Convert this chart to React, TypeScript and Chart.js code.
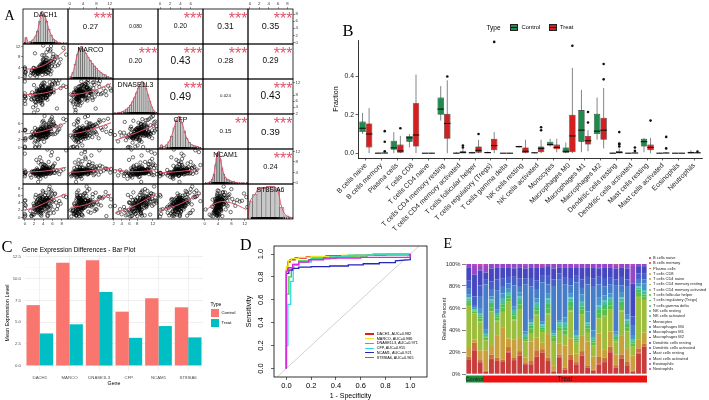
import React, { useEffect, useRef } from "react";
import { Chart, registerables } from "chart.js";
Chart.register(...registerables);

const FONT = "'Liberation Sans', Arial, Helvetica, sans-serif";
const SERIF = "'Liberation Serif', 'Times New Roman', serif";
Chart.defaults.font.family = FONT;

// ================= Panel A data =================
const genes = ["DACH1", "MARCO", "DNASE1L3", "CFP", "NCAM1", "ST8SIA6"];
const dach1 = [0, 0, 0.1, 1.2, 2.1, 1.8, 2.5, 3.0, 2.2, 1.5, 3.1, 2.8, 0.2, 2.6, 3.4, 1.9, 2.9, 3.3, 2.4, 3.6, 2.0, 3.2, 1.4, 2.7, 3.8, 2.3, 3.5, 0, 2.9, 3.0,
  3.4, 4.0, 3.7, 4.2, 3.9, 4.5, 3.1, 4.8, 3.6, 4.1, 2.8, 4.4, 3.8, 5.0, 3.5, 4.3, 4.6, 3.3, 4.0, 5.2, 3.7, 4.9, 2.6, 4.2, 3.9, 4.7, 3.0, 4.4, 5.5, 3.6,
  4.5, 5.3, 4.8, 6.0, 5.1, 4.2, 5.8, 6.5, 4.9, 5.5, 7.2, 4.6, 5.0, 6.2, 3.9, 5.7, 8.4, 4.4, 6.8, 5.2, 4.0, 5.9, 7.8, 4.7, 5.4, 6.3, 3.5, 9.0, 5.6, 4.3,
  3.2, 4.6, 2.7, 5.1, 3.9, 1.6, 4.3, 3.5, 6.1, 2.4, 4.8, 3.7, 5.6, 2.9, 4.1, 0, 3.3, 4.9, 2.2, 5.3, 3.8, 4.4, 1.9, 3.0, 6.6, 4.2, 3.6, 2.6, 5.0, 4.7,
  3.4, 0, 4.0, 5.8, 2.8, 3.9, 4.5, 7.0, 3.1, 4.3, 2.0, 5.4, 3.7, 4.6, 3.3, 6.3, 2.5, 4.1, 3.8, 5.2, 0.1, 4.4, 3.6, 2.3, 4.9, 3.0, 5.7, 4.0, 3.5, 7.5];
const marco = [0.5, 1.2, 2.0, 0.8, 2.6, 1.5, 3.0, 2.2, 1.0, 2.8, 3.3, 1.8, 2.4, 0.3, 3.6, 2.1, 1.4, 2.9, 3.1, 2.5, 1.7, 3.8, 2.0, 2.7, 1.1, 3.4, 2.3, 4.0, 1.9, 3.2,
  3.5, 2.8, 4.2, 3.0, 5.1, 2.6, 3.9, 4.6, 3.3, 6.0, 2.4, 4.8, 3.7, 5.5, 3.1, 4.0, 6.8, 2.9, 4.4, 5.2, 3.6, 7.5, 3.2, 4.9, 2.7, 5.8, 4.1, 3.4, 6.3, 3.8,
  4.5, 6.2, 3.9, 7.4, 5.0, 8.6, 4.3, 6.9, 5.6, 10.2, 4.8, 7.8, 3.6, 9.1, 5.3, 6.5, 11.5, 4.1, 8.2, 5.9, 12.4, 4.6, 7.1, 9.8, 5.1, 6.0, 3.3, 8.9, 10.8, 5.5,
  2.4, 5.6, 3.1, 1.8, 6.9, 2.7, 4.3, 3.6, 8.1, 2.2, 3.9, 5.0, 1.3, 2.9, 7.2, 3.4, 4.7, 2.0, 9.4, 3.0, 2.5, 6.1, 3.8, 1.6, 4.4, 2.8, 5.3, 3.2, 11.0, 2.1,
  4.0, 3.5, 6.6, 2.6, 1.9, 4.9, 3.3, 7.8, 2.3, 5.8, 3.7, 2.9, 4.5, 1.4, 3.1, 6.3, 2.7, 4.1, 8.7, 3.4, 2.0, 5.2, 3.9, 2.5, 4.6, 3.0, 12.2, 2.2, 3.6, 5.5];
const dnase1l3 = [6.2, 7.5, 5.1, 8.0, 6.8, 4.0, 7.2, 8.4, 5.8, 6.5, 7.9, 3.1, 6.9, 8.2, 5.5, 7.0, 8.7, 6.1, 4.6, 7.6, 2.3, 8.1, 6.7, 7.3, 5.2, 8.5, 6.4, 7.8, 9.0, 6.0,
  8.3, 7.4, 9.1, 8.6, 6.9, 9.4, 8.0, 7.7, 9.8, 8.8, 6.6, 9.2, 8.4, 10.1, 7.9, 8.9, 7.1, 9.6, 8.2, 10.4, 8.7, 7.5, 9.3, 8.1, 10.8, 9.0, 7.8, 9.5, 8.5, 11.2,
  9.2, 10.5, 8.8, 11.4, 9.7, 8.3, 10.9, 12.1, 9.4, 10.2, 11.8, 8.9, 9.9, 12.6, 10.6, 9.1, 11.1, 8.6, 12.9, 10.0, 9.5, 11.6, 10.3, 8.7, 12.3, 9.8, 11.0, 10.7, 9.3, 12.0,
  8.5, 7.1, 9.6, 10.3, 6.4, 8.9, 11.0, 7.7, 9.2, 5.6, 8.1, 10.6, 9.0, 7.4, 12.2, 8.6, 6.9, 9.9, 8.3, 10.9, 4.8, 9.4, 7.9, 8.8, 11.5, 9.1, 6.2, 10.1, 8.0, 9.7,
  7.5, 12.5, 8.4, 9.3, 6.7, 10.4, 8.7, 3.6, 9.5, 7.8, 11.3, 8.2, 9.8, 7.2, 10.0, 8.9, 5.9, 9.0, 11.8, 8.5, 7.6, 10.7, 9.2, 8.1, 6.5, 9.6, 10.2, 7.0, 8.8, 13.0];
const cfp = [0, 0.2, 1.8, 2.5, 1.2, 2.9, 3.2, 2.0, 0.1, 2.7, 3.5, 1.5, 2.3, 3.0, 2.6, 3.4, 1.9, 2.8, 3.7, 2.1, 3.1, 0.5, 2.4, 3.3, 2.9, 1.6, 3.6, 2.2, 3.8, 2.5,
  3.2, 3.9, 3.5, 4.1, 2.8, 3.7, 4.4, 3.3, 4.0, 3.0, 4.6, 3.6, 4.2, 3.4, 4.8, 3.8, 2.6, 4.3, 3.5, 5.0, 3.9, 4.1, 3.1, 4.5, 3.7, 5.2, 3.3, 4.0, 4.7, 3.6,
  4.2, 5.1, 3.8, 5.6, 4.5, 6.2, 4.0, 5.4, 4.8, 6.8, 4.3, 5.8, 3.5, 6.5, 5.0, 4.6, 7.2, 4.9, 5.3, 6.0, 4.1, 7.6, 5.5, 4.4, 6.3, 5.7, 3.9, 6.9, 5.2, 7.9,
  3.6, 2.4, 4.3, 3.1, 5.2, 3.9, 2.7, 4.6, 3.3, 0, 4.0, 3.5, 5.8, 2.9, 3.7, 4.4, 2.2, 3.8, 4.9, 3.2, 6.4, 3.6, 2.6, 4.1, 3.4, 1.4, 4.7, 3.0, 3.9, 5.5,
  2.8, 4.2, 3.5, 7.1, 3.1, 4.5, 2.5, 3.8, 0.1, 4.3, 3.3, 5.0, 2.9, 4.0, 3.6, 6.0, 3.2, 4.8, 2.3, 3.7, 4.4, 3.0, 5.3, 3.9, 2.7, 4.1, 3.4, 6.7, 3.8, 4.6];
const ncam1 = [2.5, 3.2, 3.8, 2.9, 3.5, 4.0, 3.1, 2.2, 3.7, 4.2, 3.4, 2.8, 3.9, 3.3, 1.5, 3.6, 4.1, 3.0, 2.6, 3.8, 4.4, 3.2, 2.0, 3.5, 4.3, 3.7, 2.7, 3.9, 0.3, 3.4,
  3.8, 4.2, 4.6, 3.5, 4.9, 4.0, 3.7, 5.3, 4.4, 3.9, 4.8, 4.1, 5.8, 3.6, 4.5, 4.3, 6.5, 3.8, 4.7, 5.0, 4.2, 3.4, 5.5, 4.0, 7.2, 4.6, 3.9, 5.1, 4.4, 8.3,
  4.5, 5.2, 4.0, 6.0, 4.8, 5.6, 4.3, 7.4, 5.0, 4.7, 9.2, 5.4, 4.9, 6.6, 4.2, 10.5, 5.1, 5.8, 4.6, 8.0, 5.3, 11.8, 4.4, 6.2, 5.7, 4.9, 7.0, 12.5, 5.5, 6.8,
  4.1, 3.6, 4.8, 3.9, 5.5, 4.3, 3.3, 4.6, 6.3, 3.8, 4.0, 5.1, 3.5, 4.4, 2.9, 4.7, 9.8, 3.7, 4.2, 5.9, 3.4, 4.5, 4.0, 7.8, 3.8, 4.9, 3.2, 4.3, 5.3, 3.6,
  4.1, 11.2, 4.6, 3.9, 5.0, 4.2, 2.4, 4.8, 3.7, 6.9, 4.4, 3.5, 4.0, 5.6, 4.3, 3.8, 8.8, 4.5, 3.1, 4.9, 4.1, 5.2, 3.6, 4.7, 12.8, 4.0, 3.9, 6.1, 4.4, 3.3];
const st8sia6 = [0.3, 1.0, 0.6, 1.8, 2.4, 0.9, 1.5, 3.0, 2.1, 0.4, 2.7, 1.3, 3.3, 2.0, 0.8, 2.5, 3.6, 1.7, 2.9, 1.1, 3.2, 2.3, 0.5, 3.8, 1.9, 2.6, 1.4, 3.5, 2.2, 4.0,
  2.8, 3.6, 4.2, 2.5, 3.9, 4.5, 3.1, 4.8, 3.4, 4.1, 2.2, 4.6, 3.7, 5.0, 2.9, 4.3, 3.5, 5.3, 4.0, 3.2, 4.7, 1.8, 4.4, 3.8, 5.5, 4.1, 2.6, 4.9, 3.3, 5.1,
  3.9, 4.8, 5.4, 4.3, 6.0, 3.6, 5.2, 6.4, 4.6, 5.7, 3.2, 6.8, 4.9, 5.5, 7.3, 4.4, 5.9, 6.2, 4.1, 7.8, 5.0, 6.6, 3.8, 5.3, 8.5, 4.7, 6.1, 5.6, 7.0, 4.5,
  3.4, 1.6, 4.7, 2.8, 5.6, 0.9, 3.9, 4.5, 2.2, 6.2, 3.1, 4.1, 1.2, 5.0, 3.6, 2.5, 4.8, 0.6, 3.3, 5.4, 2.0, 4.3, 3.8, 1.5, 6.6, 2.9, 4.0, 3.5, 0.4, 5.2,
  2.6, 4.6, 3.0, 7.4, 1.8, 3.7, 4.9, 2.3, 5.8, 3.2, 0.8, 4.4, 2.7, 3.9, 6.0, 1.3, 4.2, 3.4, 5.1, 2.1, 4.7, 3.6, 0.5, 5.5, 2.9, 4.0, 3.1, 6.9, 1.9, 4.5];
const geneSamples = [dach1, marco, dnase1l3, cfp, ncam1, st8sia6];

const geneMin = [-0.4, -0.5, 1.8, -0.4, -0.5, -0.4];
const geneMax = [9.4, 13, 13.3, 8.4, 13, 9.2];
const ticksDACH1 = [0, 2, 4, 6, 8];
const ticksMARCO = [0, 4, 8, 12];
const ticksDNASE1L3 = [2, 4, 6, 8, 12];
const ticksCFP = [0, 2, 4, 6];
const ticksNCAM1 = [0, 4, 8, 12];
const ticksST8SIA6 = [0, 2, 4, 6, 8];
const geneTicks = [ticksDACH1, ticksMARCO, ticksDNASE1L3, ticksCFP, ticksNCAM1, ticksST8SIA6];

const histStart = [0, 0, 2, 0, 0, -0.4];
const histBinWidth = [0.5, 0.65, 0.5, 0.5, 0.5, 0.96];
const histDACH1 = [8, 2, 3, 5, 9, 16, 28, 40, 36, 28, 18, 11, 6, 4, 2, 1, 1, 1];
const histMARCO = [3, 8, 18, 30, 38, 40, 36, 32, 27, 23, 19, 16, 13, 10, 8, 6, 5, 3, 2, 1];
const histDNASE1L3 = [1, 1, 2, 2, 3, 4, 6, 8, 11, 15, 20, 26, 32, 37, 40, 38, 32, 24, 16, 9, 4, 2];
const histCFP = [5, 3, 5, 9, 16, 26, 36, 40, 33, 22, 13, 8, 5, 4, 3, 2];
const histNCAM1 = [1, 1, 2, 3, 6, 12, 24, 38, 40, 30, 20, 12, 8, 6, 5, 4, 3, 3, 2, 2, 1, 1, 1, 1, 0, 1];
const histST8SIA6 = [22, 30, 38, 38, 40, 40, 37, 14, 4, 2];
const histCounts = [histDACH1, histMARCO, histDNASE1L3, histCFP, histNCAM1, histST8SIA6];

// upper panel correlations (row r, columns r+1..5)
const corrRow0 = ["0.27", "0.080", "0.20", "0.31", "0.35"];
const corrRow1 = ["0.20", "0.43", "0.28", "0.29"];
const corrRow2 = ["0.49", "0.024", "0.43"];
const corrRow3 = ["0.15", "0.39"];
const corrRow4 = ["0.24"];
const starsRow0 = ["***", "", "***", "***", "***"];
const starsRow1 = ["***", "***", "***", "***"];
const starsRow2 = ["***", "", "***"];
const starsRow3 = ["**", "***"];
const starsRow4 = ["***"];
const corrRows = [corrRow0, corrRow1, corrRow2, corrRow3, corrRow4];
const starRows = [starsRow0, starsRow1, starsRow2, starsRow3, starsRow4];

// loess fits in lower panels: x positions per column gene, y per pair
const fitXDACH1 = [0, 3, 6, 9];
const fitXMARCO = [0.3, 4, 8, 12.4];
const fitXDNASE1L3 = [2.3, 6, 9.5, 12.9];
const fitXCFP = [0, 3, 5.5, 7.9];
const fitXNCAM1 = [0.3, 4, 8, 12.5];
const fitX = [fitXDACH1, fitXMARCO, fitXDNASE1L3, fitXCFP, fitXNCAM1];
const fitMARCO = [[3.2, 4.0, 6.8, 11.0]];
const fitDNASE1L3 = [[8.2, 8.4, 9.4, 11.2], [8.1, 8.6, 9.8, 11.8]];
const fitCFP = [[3.4, 3.8, 4.8, 6.2], [3.3, 3.9, 4.9, 6.2], [1.8, 3.0, 4.4, 5.8]];
const fitNCAM1 = [[4.2, 4.3, 4.9, 6.0], [4.0, 4.3, 4.9, 5.6], [5.0, 4.3, 4.4, 5.1], [3.8, 4.2, 4.7, 5.3]];
const fitST8SIA6 = [[2.0, 3.2, 5.0, 6.5], [2.8, 3.3, 4.6, 6.4], [1.2, 2.6, 4.5, 6.6], [2.0, 3.2, 4.8, 6.5], [2.0, 4.2, 4.0, 2.2]];
const fitRows: number[][][] = [[], fitMARCO, fitDNASE1L3, fitCFP, fitNCAM1, fitST8SIA6];

// ================= Panel B data =================
const boxCats = ["B cells naive", "B cells memory", "Plasma cells", "T cells CD8", "T cells CD4 naive", "T cells CD4 memory resting",
  "T cells CD4 memory activated", "T cells follicular helper", "T cells regulatory (Tregs)", "T cells gamma delta", "NK cells resting",
  "NK cells activated", "Monocytes", "Macrophages M0", "Macrophages M1", "Macrophages M2", "Dendritic cells resting",
  "Dendritic cells activated", "Mast cells resting", "Mast cells activated", "Eosinophils", "Neutrophils"];
const ctrlLow = [0.100, 0, 0, 0.030, 0, 0.170, 0, 0, 0, 0, 0.030, 0, 0.035, 0, 0.005, 0.070, 0, 0, 0.005, 0, 0, 0];
const ctrlQ1 = [0.110, 0, 0.018, 0.060, 0, 0.200, 0, 0, 0, 0, 0.031, 0, 0.040, 0.003, 0.060, 0.100, 0, 0, 0.035, 0, 0, 0];
const ctrlMed = [0.130, 0, 0.028, 0.080, 0, 0.230, 0, 0.002, 0.003, 0, 0.034, 0.002, 0.045, 0.010, 0.120, 0.115, 0, 0, 0.060, 0, 0, 0.002];
const ctrlQ3 = [0.165, 0.002, 0.065, 0.090, 0, 0.290, 0.003, 0.005, 0.006, 0, 0.037, 0.004, 0.060, 0.030, 0.225, 0.205, 0.002, 0.001, 0.075, 0.001, 0.001, 0.007];
const ctrlHigh = [0.210, 0.003, 0.110, 0.100, 0, 0.350, 0.005, 0.008, 0.008, 0, 0.039, 0.006, 0.075, 0.055, 0.330, 0.290, 0.003, 0.002, 0.080, 0.002, 0.002, 0.015];
const treatLow = [0, 0, 0, 0, 0, 0, 0, 0, 0, 0, 0, 0, 0.005, 0, 0.010, 0.025, 0, 0, 0, 0, 0, 0];
const treatQ1 = [0.030, 0, 0.002, 0.035, 0, 0.075, 0, 0.002, 0.015, 0, 0.001, 0.005, 0.020, 0.005, 0.045, 0.070, 0, 0, 0.015, 0, 0, 0];
const treatMed = [0.100, 0.001, 0.012, 0.095, 0, 0.155, 0.003, 0.015, 0.040, 0, 0.010, 0.025, 0.030, 0.090, 0.065, 0.120, 0.003, 0.001, 0.030, 0.001, 0, 0.002];
const treatQ3 = [0.155, 0.003, 0.045, 0.260, 0.001, 0.205, 0.010, 0.035, 0.075, 0.001, 0.030, 0.035, 0.045, 0.200, 0.090, 0.185, 0.012, 0.003, 0.045, 0.003, 0.001, 0.004];
const treatHigh = [0.235, 0.006, 0.090, 0.410, 0.002, 0.380, 0.022, 0.070, 0.110, 0.002, 0.070, 0.070, 0.075, 0.445, 0.120, 0.340, 0.025, 0.006, 0.080, 0.006, 0.002, 0.007];
const treatOutliers = [[], [0.115, 0.060, 0.010], [0.130], [], [], [0.400], [0.030, 0.040], [0.100], [0.580], [], [], [0.120, 0.135], [], [0.560],
  [0.160, 0.215], [0.385, 0.465], [0.035, 0.045, 0.050, 0.110], [0.012, 0.030], [0.170], [0.025, 0.085], [], [0.008]];
const boxTicks = [0, 0.2, 0.4];

// ================= Panel C data =================
const barGenes = ["DACH1", "MARCO", "DNASE1L3", "CFP", "NCAM1", "ST8SIA6"];
const meanControl = [6.95, 11.8, 12.1, 6.2, 7.75, 6.7];
const meanTreat = [3.7, 4.75, 8.45, 3.2, 4.55, 3.25];
const barMajorTicks = [0, 2.5, 5, 7.5, 10, 12.5];
const barMinorTicks = [1.25, 3.75, 6.25, 8.75, 11.25];

// ================= Panel D data =================
const rocNames = ["DACH1, AUC=0.982", "MARCO, AUC=0.986", "DNASE1L3, AUC=0.971", "CFP, AUC=0.955", "NCAM1, AUC=0.921", "ST8SIA6, AUC=0.965"];
const rocDACH1Fpr = [0, 0, 0.012, 0.012, 0.03, 0.03, 0.07, 0.07, 0.16, 0.16, 0.32, 0.32, 0.55, 0.55, 0.8, 0.8, 1];
const rocDACH1Tpr = [0, 0.86, 0.86, 0.93, 0.93, 0.95, 0.95, 0.965, 0.965, 0.975, 0.975, 0.985, 0.985, 0.99, 0.99, 1, 1];
const rocMARCOFpr = [0, 0, 0.015, 0.015, 0.04, 0.04, 0.1, 0.1, 0.2, 0.2, 0.45, 0.45, 0.7, 0.7, 1];
const rocMARCOTpr = [0, 0.89, 0.89, 0.945, 0.945, 0.96, 0.96, 0.97, 0.97, 0.98, 0.98, 0.99, 0.99, 1, 1];
const rocDNASE1L3Fpr = [0, 0, 0.02, 0.02, 0.04, 0.04, 0.06, 0.06, 0.1, 0.1, 0.2, 0.2, 0.4, 0.4, 0.65, 0.65, 1, 1];
const rocDNASE1L3Tpr = [0, 0.65, 0.65, 0.8, 0.8, 0.87, 0.87, 0.91, 0.91, 0.94, 0.94, 0.96, 0.96, 0.975, 0.975, 0.99, 0.99, 1];
const rocCFPFpr = [0, 0, 0.012, 0.012, 0.035, 0.035, 0.055, 0.055, 0.1, 0.1, 0.2, 0.2, 0.35, 0.35, 0.5, 0.5, 0.7, 0.7, 1];
const rocCFPTpr = [0, 0.2, 0.2, 0.56, 0.56, 0.76, 0.76, 0.9, 0.9, 0.93, 0.93, 0.955, 0.955, 0.975, 0.975, 0.99, 0.99, 1, 1];
const rocNCAM1Fpr = [0, 0, 0.02, 0.02, 0.05, 0.05, 0.1, 0.1, 0.2, 0.2, 0.35, 0.35, 0.5, 0.5, 0.62, 0.62, 0.75, 0.75, 0.88, 0.88, 1, 1];
const rocNCAM1Tpr = [0, 0.83, 0.83, 0.86, 0.86, 0.875, 0.875, 0.885, 0.885, 0.89, 0.89, 0.895, 0.895, 0.905, 0.905, 0.915, 0.915, 0.925, 0.925, 0.94, 0.95, 1];
const rocST8SIA6Fpr = [0, 0, 0.02, 0.02, 0.05, 0.05, 0.1, 0.1, 0.18, 0.18, 0.3, 0.3, 0.6, 0.6, 1, 1];
const rocST8SIA6Tpr = [0, 0.85, 0.85, 0.88, 0.88, 0.91, 0.91, 0.93, 0.93, 0.95, 0.95, 0.965, 0.965, 0.97, 0.97, 1];
const rocFpr = [rocDACH1Fpr, rocMARCOFpr, rocDNASE1L3Fpr, rocCFPFpr, rocNCAM1Fpr, rocST8SIA6Fpr];
const rocTpr = [rocDACH1Tpr, rocMARCOTpr, rocDNASE1L3Tpr, rocCFPTpr, rocNCAM1Tpr, rocST8SIA6Tpr];
const rocTicks = [0, 0.2, 0.4, 0.6, 0.8, 1.0];
const diagX = [-0.1, 1.14];

// ================= Panel E data =================
const sampleGroups = ["Control", "Control", "Control", "Treat", "Treat", "Treat", "Treat", "Treat", "Treat", "Treat", "Treat", "Treat",
  "Treat", "Treat", "Treat", "Treat", "Treat", "Treat", "Treat", "Treat", "Treat", "Treat", "Treat", "Treat", "Treat", "Treat", "Treat",
  "Treat", "Treat", "Treat", "Treat", "Treat"];
const cellTypes = boxCats;
const fracBnaive = [13, 22, 11, 2, 13, 12, 11, 20, 13, 17, 9, 9, 16, 20, 12, 2, 15, 4, 13, 9, 17, 6, 3, 9, 11, 20, 6, 14, 8, 2, 19, 25];
const fracBmem = [0, 1, 0, 0, 1, 0, 0, 1, 0, 0, 0, 1, 0, 0, 0, 0, 1, 0, 0, 0, 0, 0, 0, 1, 0, 0, 0, 0, 0, 0, 1, 0];
const fracPlasma = [3, 6, 2, 1, 4, 3, 2, 4, 2, 4, 1, 2, 6, 3, 3, 1, 2, 2, 5, 2, 4, 2, 1, 6, 4, 5, 2, 4, 3, 1, 4, 3];
const fracCD8 = [9, 3, 9, 19, 8, 20, 30, 8, 17, 12, 5, 18, 12, 6, 22, 5, 10, 20, 15, 8, 14, 22, 12, 22, 8, 14, 10, 18, 12, 14, 8, 10];
const fracCD4naive = [0, 0, 0, 0, 0, 0, 0, 0, 0, 0, 0, 0, 0, 0, 0, 0, 0, 0, 0, 0, 0, 0, 0, 0, 0, 0, 0, 0, 0, 0, 0, 0];
const fracCD4memRest = [38, 24, 26, 9, 32, 13, 14, 34, 18, 26, 15, 8, 20, 10, 18, 22, 12, 10, 25, 10, 20, 8, 10, 14, 30, 20, 12, 22, 16, 8, 40, 30];
const fracCD4memAct = [1, 0, 1, 0, 0, 1, 0, 0, 1, 0, 0, 0, 1, 0, 1, 0, 0, 0, 1, 0, 0, 1, 0, 0, 1, 0, 0, 1, 0, 0, 1, 0];
const fracTfh = [2, 2, 3, 3, 4, 3, 4, 3, 4, 5, 2, 4, 4, 2, 5, 3, 3, 4, 4, 2, 4, 3, 3, 5, 6, 4, 2, 5, 4, 3, 3, 3];
const fracTregs = [2, 1, 2, 1, 4, 2, 3, 3, 2, 3, 2, 3, 3, 2, 4, 2, 2, 3, 4, 2, 3, 3, 2, 3, 4, 3, 2, 3, 3, 2, 3, 2];
const fracGammaDelta = [0, 0, 0, 0, 0, 0, 0, 0, 0, 0, 0, 0, 0, 0, 0, 0, 0, 0, 0, 0, 0, 0, 0, 0, 0, 0, 0, 0, 0, 0, 0, 0];
const fracNKrest = [2, 1, 2, 2, 2, 2, 4, 2, 2, 3, 2, 2, 3, 2, 4, 2, 2, 3, 3, 2, 4, 2, 2, 3, 3, 3, 2, 3, 3, 2, 2, 3];
const fracNKact = [1, 0, 1, 1, 1, 0, 1, 1, 1, 1, 0, 1, 1, 1, 1, 0, 1, 1, 1, 1, 1, 1, 1, 1, 1, 1, 0, 1, 1, 0, 1, 1];
const fracMono = [3, 2, 4, 3, 3, 3, 5, 3, 3, 4, 3, 3, 4, 3, 5, 3, 2, 5, 4, 4, 6, 10, 6, 8, 5, 4, 3, 5, 5, 3, 3, 6];
const fracM0 = [5, 2, 12, 42, 6, 18, 6, 5, 20, 5, 43, 30, 8, 36, 8, 40, 38, 30, 7, 45, 6, 25, 40, 12, 8, 8, 42, 6, 25, 10, 4, 4];
const fracM1 = [8, 8, 10, 5, 8, 10, 8, 6, 8, 8, 6, 8, 9, 6, 8, 6, 5, 7, 7, 6, 8, 7, 8, 7, 8, 7, 6, 8, 7, 8, 5, 5];
const fracM2 = [12, 20, 14, 6, 12, 11, 10, 9, 8, 10, 9, 10, 12, 8, 9, 10, 6, 9, 10, 8, 11, 9, 10, 8, 10, 9, 10, 9, 10, 30, 7, 7];
const fracDCrest = [0, 0, 0, 0, 0, 0, 0, 0, 0, 0, 0, 0, 0, 0, 0, 0, 0, 0, 0, 0, 0, 0, 0, 0, 0, 0, 0, 0, 0, 0, 0, 0];
const fracDCact = [0, 0, 0, 0, 0, 0, 0, 0, 1, 0, 0, 0, 0, 0, 0, 0, 0, 0, 0, 0, 0, 0, 0, 1, 0, 0, 0, 0, 0, 0, 0, 0];
const fracMastRest = [3, 9, 5, 7, 4, 3, 3, 3, 3, 3, 3, 3, 3, 2, 2, 4, 3, 3, 3, 2, 3, 3, 3, 3, 3, 3, 3, 3, 4, 17, 2, 2];
const fracMastAct = [0, 1, 0, 1, 0, 0, 0, 0, 0, 0, 1, 0, 0, 0, 0, 0, 0, 0, 0, 1, 0, 0, 0, 0, 0, 0, 0, 0, 0, 1, 0, 0];
const fracEos = [0, 0, 0, 0, 0, 0, 0, 0, 0, 0, 0, 0, 0, 0, 0, 0, 0, 0, 0, 0, 0, 0, 0, 0, 0, 0, 0, 0, 0, 0, 0, 0];
const fracNeut = [0, 0, 1, 0, 0, 0, 0, 0, 0, 0, 0, 0, 0, 1, 0, 0, 0, 0, 0, 0, 0, 0, 0, 0, 0, 0, 1, 0, 0, 0, 0, 0];
const cellFractions = [fracBnaive, fracBmem, fracPlasma, fracCD8, fracCD4naive, fracCD4memRest, fracCD4memAct, fracTfh, fracTregs,
  fracGammaDelta, fracNKrest, fracNKact, fracMono, fracM0, fracM1, fracM2, fracDCrest, fracDCact, fracMastRest, fracMastAct, fracEos, fracNeut];
const percentTicks = [0, 20, 40, 60, 80, 100];

// ================= styles =================
const FIT_RED = "#DF536B";
const B_GREEN = "#1E8A4C";
const B_RED = "#D21F1F";
const C_RED = "#F8766D";
const C_CYAN = "#00BFC4";
const ROC_COLORS = ["#E0201E", "#E8E82A", "#3CCB3C", "#2ADCDC", "#2626B8", "#DC28DC"];
const E_COLORS = ["#C83C3C", "#C84E3C", "#C8703C", "#C8A03C", "#B4AC3C", "#9CBE3C", "#84BE3C", "#5CBE46", "#46BE5C", "#46BE7C",
  "#46BEA2", "#46B4B8", "#4696C8", "#467CC8", "#465EC8", "#4646C0", "#5C46C8", "#7846C8", "#9846C8", "#B446C8", "#C846B4", "#C84696"];
const E_GREEN = "#1B8C3A";
const E_RED = "#EE1111";

const A_X0 = 23, A_Y0 = 9, A_W = 45, A_H = 35, A_M = 10;

const baseOpts = {
  animation: false,
  responsive: false,
  events: [],
  plugins: { legend: { display: false }, tooltip: { enabled: false }, title: { display: false } },
};

const framePlugin = {
  id: "frame",
  afterDraw(chart: any) {
    const { ctx, chartArea: a } = chart;
    ctx.save();
    ctx.strokeStyle = "#000";
    ctx.lineWidth = 0.8;
    ctx.strokeRect(a.left, a.top, a.right - a.left, a.bottom - a.top);
    ctx.restore();
  },
};

function cellConfig(r: number, c: number): any {
  const showTop = r === 0 && c % 2 === 1;
  const showBottom = r === 5 && c % 2 === 0;
  const showLeft = c === 0 && r % 2 === 1;
  const showRight = c === 5 && r % 2 === 0;
  const tickFont = { size: 4.3, family: FONT };
  const axisFor = (gi: number): any => ({
    type: "linear", min: geneMin[gi], max: geneMax[gi], bounds: "data", offset: false,
    border: { display: false },
    grid: { drawOnChartArea: false, drawTicks: true, tickLength: 2, color: "#333", lineWidth: 0.5, offset: false },
    ticks: { font: tickFont, color: "#333", padding: 0.5, maxRotation: 0, minRotation: 0, autoSkip: false },
    afterBuildTicks: (ax: any) => { ax.ticks = geneTicks[gi].map((v) => ({ value: v })); },
  });
  const x: any = { ...axisFor(c), display: showTop || showBottom, position: showTop ? "top" : "bottom" };
  if (showTop || showBottom) x.afterFit = (ax: any) => { ax.height = A_M; };
  let y: any;
  if (r === c) {
    y = { type: "linear", display: false, min: 0, max: Math.max(...histCounts[c]) * 1.08 };
  } else {
    y = { ...axisFor(r), display: showLeft || showRight, position: showLeft ? "left" : "right" };
    if (showLeft || showRight) y.afterFit = (ax: any) => { ax.width = A_M; };
  }
  const padding = { top: showTop ? 0 : A_M, bottom: showBottom ? 0 : A_M, left: showLeft ? 0 : A_M, right: showRight ? 0 : A_M };
  const options = { ...baseOpts, layout: { padding }, scales: { x, y } };

  if (r === c) {
    const counts = histCounts[c];
    const bins = counts.map((v, i) => ({ x: histStart[c] + (i + 0.5) * histBinWidth[c], y: v }));
    const density = [{ x: histStart[c], y: 0 }, ...bins, { x: histStart[c] + counts.length * histBinWidth[c], y: 0 }];
    return {
      type: "bar",
      data: {
        datasets: [
          { type: "line", data: density, borderColor: FIT_RED, borderWidth: 1, pointRadius: 0, tension: 0.4, fill: false },
          { type: "scatter", data: geneSamples[c].map((v) => ({ x: v, y: 0 })), pointStyle: "line", rotation: 90, radius: 2,
            borderColor: "#000", borderWidth: 0.6 },
          { type: "bar", data: bins, backgroundColor: "#c8c8c8", borderColor: "#444", borderWidth: 0.5,
            barPercentage: 1, categoryPercentage: 1, grouped: false },
        ],
      },
      options,
      plugins: [framePlugin],
    };
  }
  if (r > c) {
    const fit = fitRows[r][c];
    return {
      type: "scatter",
      data: {
        datasets: [
          { data: fitX[c].map((xv, i) => ({ x: xv, y: fit[i] })), showLine: true, borderColor: FIT_RED, borderWidth: 1,
            pointRadius: 0, tension: 0.4 },
          { data: geneSamples[c].map((xv, i) => ({ x: xv, y: geneSamples[r][i] })), pointRadius: 1.7, pointBorderWidth: 0.55,
            pointBorderColor: "#000", pointBackgroundColor: "rgba(0,0,0,0)" },
        ],
      },
      options,
      plugins: [framePlugin],
    };
  }
  return { type: "scatter", data: { datasets: [] }, options, plugins: [framePlugin] };
}

const boxPlugin = {
  id: "boxWhisker",
  beforeDatasetsDraw(chart: any) {
    const ys = chart.scales.y;
    const ctx = chart.ctx;
    ctx.save();
    ctx.strokeStyle = "#333";
    ctx.lineWidth = 0.6;
    [0, 1].forEach((d) => {
      const lo = d === 0 ? ctrlLow : treatLow;
      const hi = d === 0 ? ctrlHigh : treatHigh;
      chart.getDatasetMeta(d).data.forEach((el: any, i: number) => {
        ctx.beginPath();
        ctx.moveTo(el.x, ys.getPixelForValue(lo[i]));
        ctx.lineTo(el.x, ys.getPixelForValue(hi[i]));
        ctx.stroke();
      });
    });
    ctx.restore();
  },
  afterDatasetsDraw(chart: any) {
    const ys = chart.scales.y;
    const ctx = chart.ctx;
    ctx.save();
    [0, 1].forEach((d) => {
      const med = d === 0 ? ctrlMed : treatMed;
      chart.getDatasetMeta(d).data.forEach((el: any, i: number) => {
        const py = ys.getPixelForValue(med[i]);
        ctx.strokeStyle = "#111";
        ctx.lineWidth = 1.1;
        ctx.beginPath();
        ctx.moveTo(el.x - el.width / 2, py);
        ctx.lineTo(el.x + el.width / 2, py);
        ctx.stroke();
        if (d === 1) {
          ctx.fillStyle = "#111";
          treatOutliers[i].forEach((v) => {
            ctx.beginPath();
            ctx.arc(el.x, ys.getPixelForValue(v), 1.3, 0, Math.PI * 2);
            ctx.fill();
          });
        }
      });
    });
    ctx.restore();
  },
};

function boxConfig(): any {
  return {
    type: "bar",
    data: {
      labels: boxCats,
      datasets: [
        { label: "Control", data: boxCats.map((_, i) => [ctrlQ1[i], ctrlQ3[i]]), backgroundColor: B_GREEN, borderColor: "#1a1a1a",
          borderWidth: 0.6, borderSkipped: false, categoryPercentage: 0.84, barPercentage: 0.98 },
        { label: "Treat", data: boxCats.map((_, i) => [treatQ1[i], treatQ3[i]]), backgroundColor: B_RED, borderColor: "#1a1a1a",
          borderWidth: 0.6, borderSkipped: false, categoryPercentage: 0.84, barPercentage: 0.98 },
      ],
    },
    options: {
      ...baseOpts,
      layout: { padding: { top: 40, right: 7, left: 0, bottom: 0 } },
      scales: {
        x: {
          offset: true,
          grid: { drawOnChartArea: false, drawTicks: true, tickLength: 2.5, color: "#000", lineWidth: 0.6, offset: false },
          border: { display: true, color: "#000", width: 0.8 },
          ticks: { font: { size: 7, family: FONT }, color: "#222", padding: 1, maxRotation: 45, minRotation: 45, autoSkip: false },
          afterFit: (ax: any) => { ax.height = 78; },
        },
        y: {
          min: -0.025, max: 0.59, bounds: "data",
          grid: { drawOnChartArea: false, drawTicks: true, tickLength: 2.5, color: "#000", lineWidth: 0.6 },
          border: { display: true, color: "#000", width: 0.8 },
          afterBuildTicks: (ax: any) => { ax.ticks = boxTicks.map((v) => ({ value: v })); },
          ticks: { callback: (v: any) => Number(v).toFixed(1), font: { size: 6.8, family: FONT }, color: "#222", padding: 1.5 },
          title: { display: true, text: "Fraction", font: { size: 7, family: FONT }, color: "#000", padding: { top: 1.8, bottom: 0 } },
          afterFit: (ax: any) => { ax.width = 28; },
        },
      },
    },
    plugins: [boxPlugin],
  };
}

function barConfig(): any {
  return {
    type: "bar",
    data: {
      labels: barGenes,
      datasets: [
        { label: "Control", data: meanControl, backgroundColor: C_RED, borderWidth: 0, categoryPercentage: 0.9, barPercentage: 1 },
        { label: "Treat", data: meanTreat, backgroundColor: C_CYAN, borderWidth: 0, categoryPercentage: 0.9, barPercentage: 1 },
      ],
    },
    options: {
      ...baseOpts,
      layout: { padding: { top: 15, right: 12, left: 0, bottom: 0 } },
      scales: {
        x: {
          grid: { offset: false, color: "#ebebeb", lineWidth: 0.7, drawTicks: false },
          border: { display: false },
          ticks: { font: { size: 4.3, family: FONT }, color: "#4d4d4d", padding: 4, maxRotation: 0, autoSkip: false },
          title: { display: true, text: "Gene", font: { size: 5.3, family: FONT }, color: "#000", padding: { top: 0, bottom: 3.5 } },
          afterFit: (ax: any) => { ax.height = 19; },
        },
        y: {
          min: -0.605, max: 12.7, bounds: "data",
          grid: {
            drawTicks: false,
            color: (ctx: any) => (ctx.tick && barMinorTicks.includes(ctx.tick.value) ? "#f3f3f3" : "#e6e6e6"),
            lineWidth: (ctx: any) => (ctx.tick && barMinorTicks.includes(ctx.tick.value) ? 0.4 : 0.7),
          },
          border: { display: false },
          afterBuildTicks: (ax: any) => {
            ax.ticks = [...barMajorTicks, ...barMinorTicks].sort((a, b) => a - b).map((v) => ({ value: v }));
          },
          ticks: {
            callback: (v: any) => (barMajorTicks.includes(Number(v)) ? Number(v).toFixed(1) : ""),
            font: { size: 4.3, family: FONT }, color: "#4d4d4d", padding: 4,
          },
          title: { display: true, text: "Mean Expression Level", font: { size: 5.5, family: FONT }, color: "#000", padding: { top: 3.7, bottom: 0 } },
          afterFit: (ax: any) => { ax.width = 25; },
        },
      },
    },
  };
}

const rocYLabels = {
  id: "rocYLabels",
  afterDraw(chart: any) {
    const ys = chart.scales.y;
    const ctx = chart.ctx;
    ctx.save();
    ctx.fillStyle = "#000";
    ctx.font = `7.5px ${FONT}`;
    ctx.textAlign = "center";
    ctx.textBaseline = "middle";
    ys.ticks.forEach((t: any) => {
      const py = ys.getPixelForValue(t.value);
      ctx.save();
      ctx.translate(chart.chartArea.left - 13.5, py);
      ctx.rotate(-Math.PI / 2);
      ctx.fillText(Number(t.value).toFixed(1), 0, 0);
      ctx.restore();
    });
    ctx.restore();
  },
};

function rocConfig(): any {
  const datasets: any[] = rocFpr.map((fpr, k) => ({
    data: fpr.map((xv, i) => ({ x: xv, y: rocTpr[k][i] })),
    showLine: true, borderColor: ROC_COLORS[k], borderWidth: 1.3, pointRadius: 0, order: 5 - k,
  }));
  datasets.push({ data: diagX.map((v) => ({ x: v, y: v })), showLine: true, borderColor: "#c4c4c4", borderWidth: 0.8, pointRadius: 0, order: 6 });
  const tickAxis = (title: string, showTicks: boolean, size: number, key: string): any => ({
    type: "linear", bounds: "data",
    grid: { drawOnChartArea: false, drawTicks: true, tickLength: 3, color: "#000", lineWidth: 0.6 },
    border: { display: false },
    afterBuildTicks: (ax: any) => { ax.ticks = rocTicks.map((v) => ({ value: v })); },
    ticks: { display: showTicks, callback: (v: any) => Number(v).toFixed(1), font: { size: 7.5, family: FONT }, color: "#000", padding: 1, maxRotation: 0, autoSkip: false },
    title: { display: true, text: title, font: { size: 7, family: FONT }, color: "#000", padding: { top: 0, bottom: 0 } },
    afterFit: (ax: any) => { if (key === "x") ax.height = size; else ax.width = size; },
  });
  return {
    type: "scatter",
    data: { datasets },
    options: {
      ...baseOpts,
      layout: { padding: { top: 8, right: 13, left: 0, bottom: 0 } },
      scales: {
        x: { ...tickAxis("1 - Specificity", true, 23, "x"), min: -0.1, max: 1.135 },
        y: { ...tickAxis("Sensitivity", false, 29, "y"), min: -0.075, max: 1.07 },
      },
    },
    plugins: [framePlugin, rocYLabels],
  };
}

const groupStrip = {
  id: "groupStrip",
  afterDraw(chart: any) {
    const xs = chart.scales.x;
    const a = chart.chartArea;
    const ctx = chart.ctx;
    const half = (xs.getPixelForValue(1) - xs.getPixelForValue(0)) / 2;
    const runs: any[] = [];
    let start = 0;
    for (let i = 1; i <= sampleGroups.length; i++) {
      if (i === sampleGroups.length || sampleGroups[i] !== sampleGroups[start]) {
        runs.push({ g: sampleGroups[start], x0: xs.getPixelForValue(start) - half, x1: xs.getPixelForValue(i - 1) + half });
        start = i;
      }
    }
    ctx.save();
    runs.forEach((r) => {
      ctx.fillStyle = r.g === "Control" ? E_GREEN : E_RED;
      ctx.fillRect(r.x0, a.bottom + 1.5, r.x1 - r.x0, 7);
    });
    runs.forEach((r) => {
      ctx.fillStyle = "#1a1a1a";
      ctx.font = `${r.g === "Control" ? 5.5 : 6.4}px ${FONT}`;
      ctx.textAlign = "center";
      ctx.textBaseline = "middle";
      ctx.fillText(r.g, (r.x0 + r.x1) / 2, a.bottom + 5.2);
    });
    ctx.restore();
  },
};

function stackConfig(): any {
  const totals = sampleGroups.map((_, i) => cellFractions.reduce((s, arr) => s + arr[i], 0));
  return {
    type: "bar",
    data: {
      labels: sampleGroups.map((_, i) => `S${i + 1}`),
      datasets: cellFractions.map((arr, k) => ({
        label: cellTypes[k], data: arr.map((v, i) => (v / totals[i]) * 100), backgroundColor: E_COLORS[k], borderWidth: 0,
        categoryPercentage: 1, barPercentage: 0.86,
      })),
    },
    options: {
      ...baseOpts,
      layout: { padding: { top: 9, right: 3, left: 0, bottom: 16 } },
      scales: {
        x: { stacked: true, display: false },
        y: {
          stacked: true, min: 0, max: 100, bounds: "data",
          grid: { drawOnChartArea: false, drawTicks: true, tickLength: 4, color: "#333", lineWidth: 0.6 },
          border: { display: false },
          afterBuildTicks: (ax: any) => { ax.ticks = percentTicks.map((v) => ({ value: v })); },
          ticks: { callback: (v: any) => `${v}%`, font: { size: 5.8, family: FONT }, color: "#333", padding: 1.5 },
          title: { display: true, text: "Relative Percent", font: { size: 5.8, family: FONT }, color: "#222", padding: { top: 4.5, bottom: 0 } },
          afterFit: (ax: any) => { ax.width = 30; },
        },
      },
    },
    plugins: [groupStrip],
  };
}

function ChartCanvas({ x, y, w, h, build }: { x: number; y: number; w: number; h: number; build: () => any }) {
  const ref = useRef<HTMLCanvasElement | null>(null);
  useEffect(() => {
    if (!ref.current) return;
    const chart = new Chart(ref.current, build());
    return () => chart.destroy();
  }, []);
  return (
    <canvas ref={ref} width={w} height={h}
      style={{ position: "absolute", left: x, top: y, width: w, height: h, display: "block" }} />
  );
}

const abs = (extra: any): any => ({ position: "absolute", whiteSpace: "nowrap", ...extra });

export default function App() {
  const cells: any[] = [];
  const texts: any[] = [];
  for (let r = 0; r < 6; r++) {
    for (let c = 0; c < 6; c++) {
      cells.push(
        <ChartCanvas key={`cell-${r}-${c}`} x={A_X0 + c * A_W - A_M} y={A_Y0 + r * A_H - A_M}
          w={A_W + 2 * A_M} h={A_H + 2 * A_M} build={() => cellConfig(r, c)} />
      );
    }
  }
  genes.forEach((g, i) => {
    texts.push(
      <div key={`gn-${i}`} style={abs({ left: A_X0 + i * A_W, top: A_Y0 + i * A_H + 2, width: A_W, textAlign: "center",
        fontSize: 7, lineHeight: "7px", color: "#000" })}>{g}</div>
    );
  });
  corrRows.forEach((row, r) => {
    row.forEach((lab, k) => {
      const c = r + 1 + k;
      const size = 4 + 14.5 * Math.abs(parseFloat(lab));
      texts.push(
        <div key={`cv-${r}-${c}`} style={abs({ left: A_X0 + c * A_W, top: A_Y0 + r * A_H, width: A_W, height: A_H, display: "flex",
          alignItems: "center", justifyContent: "center", fontSize: size, lineHeight: 1, color: "#111" })}>{lab}</div>
      );
      if (starRows[r][k]) {
        texts.push(
          <div key={`st-${r}-${c}`} style={abs({ left: A_X0 + c * A_W, top: A_Y0 + r * A_H + 2, width: A_W - 0.5, textAlign: "right",
            fontSize: 16, lineHeight: "16px", color: FIT_RED })}>{starRows[r][k]}</div>
        );
      }
    });
  });

  const letter = (t: string, left: number, top: number, fs: number) => (
    <div key={`L-${t}`} style={abs({ left, top, fontFamily: SERIF, fontSize: fs, lineHeight: `${fs}px`, color: "#000" })}>{t}</div>
  );

  return (
    <div style={{ position: "absolute", left: 0, top: 0, width: 709, height: 400, overflow: "hidden", background: "#fff", fontFamily: FONT }}>
      {cells}
      {texts}
      {letter("A", 4.5, 9.2, 14)}
      {letter("B", 342.5, 23.1, 16.5)}
      {letter("C", 1.5, 238.8, 16.5)}
      {letter("D", 240, 237.2, 16)}
      {letter("E", 443.5, 236.8, 14)}

      {/* Panel B */}
      <ChartCanvas x={330} y={0} w={379} h={236} build={boxConfig} />
      <div style={abs({ left: 486.5, top: 23.5, fontSize: 6.5, lineHeight: "7px", color: "#000" })}>Type</div>
      <div style={abs({ left: 510, top: 23.5, width: 8, height: 7, background: B_GREEN, border: "0.6px solid #222", boxSizing: "border-box" })}>
        <div style={abs({ left: 0, top: 2.6, width: "100%", height: 0, borderTop: "1px solid #111" })} />
      </div>
      <div style={abs({ left: 521.5, top: 24, fontSize: 5.8, lineHeight: "6px", color: "#000" })}>Control</div>
      <div style={abs({ left: 548.5, top: 23.5, width: 8, height: 7, background: B_RED, border: "0.6px solid #222", boxSizing: "border-box" })}>
        <div style={abs({ left: 0, top: 2.6, width: "100%", height: 0, borderTop: "1px solid #111" })} />
      </div>
      <div style={abs({ left: 560, top: 24, fontSize: 5.8, lineHeight: "6px", color: "#000" })}>Treat</div>

      {/* Panel C */}
      <ChartCanvas x={0} y={240} w={215} h={150} build={barConfig} />
      <div style={abs({ left: 22, top: 245.5, fontSize: 6.5, lineHeight: "7px", color: "#000" })}>Gene Expression Differences - Bar Plot</div>
      <div style={abs({ left: 210.5, top: 301.5, fontSize: 5, lineHeight: "5px", color: "#000" })}>Type</div>
      <div style={abs({ left: 211, top: 309, width: 8, height: 8, background: C_RED })} />
      <div style={abs({ left: 221.5, top: 311, fontSize: 4.3, lineHeight: "4.5px", color: "#000" })}>Control</div>
      <div style={abs({ left: 211, top: 319, width: 8, height: 8, background: C_CYAN })} />
      <div style={abs({ left: 221.5, top: 321, fontSize: 4.3, lineHeight: "4.5px", color: "#000" })}>Treat</div>

      {/* Panel D */}
      <ChartCanvas x={245} y={238} w={195} h={162} build={rocConfig} />
      {rocNames.map((n, k) => (
        <React.Fragment key={`rl-${k}`}>
          <div style={abs({ left: 365, top: 334 + k * 4.7 - 0.6, width: 8.5, height: 1.2, background: ROC_COLORS[k] })} />
          <div style={abs({ left: 376.7, top: 334 + k * 4.7 - 2, fontSize: 3.8, lineHeight: "4px", color: "#000" })}>{n}</div>
        </React.Fragment>
      ))}

      {/* Panel E */}
      <ChartCanvas x={436} y={255} w={214} h={135} build={stackConfig} />
      {cellTypes.map((n, k) => (
        <React.Fragment key={`el-${k}`}>
          <div style={abs({ left: 648.8, top: 258 + k * 5.3 - 0.9, width: 1.8, height: 1.8, borderRadius: "50%", background: E_COLORS[k] })} />
          <div style={abs({ left: 653, top: 258 + k * 5.3 - 2.1, fontSize: 4, lineHeight: "4.2px", color: "#222" })}>{n}</div>
        </React.Fragment>
      ))}
    </div>
  );
}
